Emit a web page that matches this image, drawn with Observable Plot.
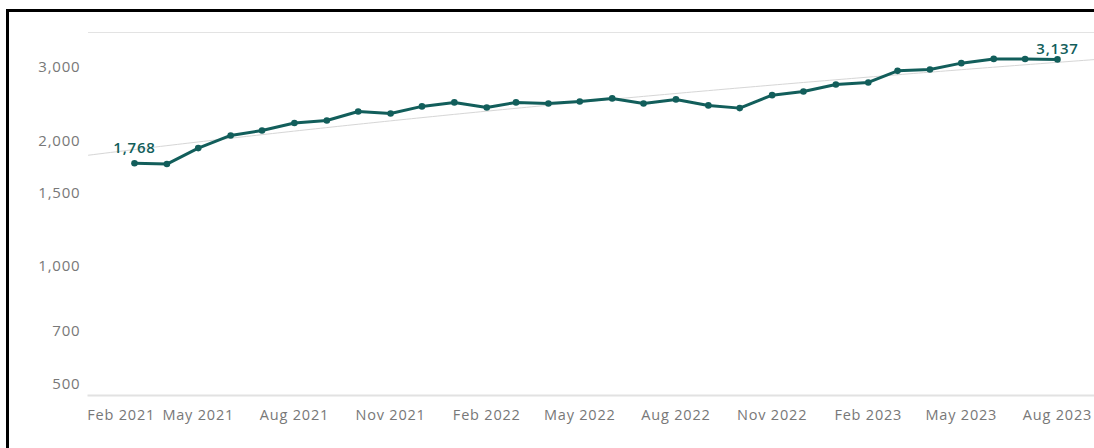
<!DOCTYPE html>
<html><head><meta charset="utf-8">
<script src="https://cdn.jsdelivr.net/npm/d3@7"></script>
<script src="https://cdn.jsdelivr.net/npm/@observablehq/plot@0.6"></script>
<style>
html,body{margin:0;padding:0;background:#fff;}
#wrap{position:relative;width:1094px;height:448px;overflow:hidden;}
#frame{position:absolute;left:6px;top:9px;right:-10px;bottom:-10px;border-left:3px solid #000;border-top:3px solid #000;pointer-events:none;}
</style></head><body>
<div id="wrap"><div id="chart"></div><div id="frame"></div></div>
<script>
const months = ["2021-03","2021-04","2021-05","2021-06","2021-07","2021-08","2021-09","2021-10","2021-11","2021-12",
  "2022-01","2022-02","2022-03","2022-04","2022-05","2022-06","2022-07","2022-08","2022-09","2022-10","2022-11","2022-12",
  "2023-01","2023-02","2023-03","2023-04","2023-05","2023-06","2023-07","2023-08"];
const values = [1768,1760,1922,2061,2119,2207,2239,2353,2327,2420,
  2474,2406,2474,2460,2487,2529,2460,2515,2433,2397,2575,2628,
  2732,2762,2945,2968,3073,3146,3144,3137];
const yTicks = [500,700,1000,1500,2000,3000];
const xTickMonths = ["2021-02","2021-05","2021-08","2021-11","2022-02","2022-05","2022-08","2022-11","2023-02","2023-05","2023-08"];
const labelMonths = ["2021-03","2023-08"];

const parse = d3.utcParse("%Y-%m");
const data = months.map((m, i) => ({date: parse(m), value: values[i]}));

// linear trend (value vs time), evaluated across the full axis
const xDomain = [new Date(Date.UTC(2021,0,16)), new Date(Date.UTC(2023,8,5,10))];
const t = data.map(d => +d.date), v = values;
const tm = d3.mean(t), vm = d3.mean(v);
const slope = d3.sum(t, (ti, i) => (ti - tm) * (v[i] - vm)) / d3.sum(t, ti => (ti - tm) ** 2);
const trend = d3.utcDay.every(5).range(xDomain[0], xDomain[1]).concat([xDomain[1]])
  .map(d => ({date: d, value: vm + slope * (+d - tm)}));

const labels = data.filter(d => labelMonths.includes(d3.utcFormat("%Y-%m")(d.date)));
const xTicks = xTickMonths.map(parse);
const teal = "#125e5b";
const fmt = d3.format(",");

const chart = Plot.plot({
  width: 1094, height: 448,
  marginLeft: 88, marginRight: 0, marginTop: 32, marginBottom: 53,
  style: {fontFamily: "Open Sans", fontSize: "15px", letterSpacing: "0.8px", color: "#787878", background: "transparent"},
  x: {type: "utc", domain: xDomain, axis: null},
  y: {type: "log", domain: [490, 3640], axis: null},
  marks: [
    Plot.frame({anchor: "top", stroke: "#e3e3e3"}),
    Plot.frame({anchor: "bottom", stroke: "#e2e2e2", strokeWidth: 2}),
    Plot.line(trend, {x: "date", y: "value", stroke: "#d6d6d6", strokeWidth: 1}),
    Plot.line(data, {x: "date", y: "value", stroke: teal, strokeWidth: 3}),
    Plot.dot(data, {x: "date", y: "value", r: 3.3, fill: teal}),
    Plot.text(labels.slice(0,1), {x: "date", y: "value", text: d => fmt(d.value), dy: -15, fill: teal, fontSize: 15, fontWeight: 600, letterSpacing: "0.4px"}),
    Plot.text(labels.slice(1), {x: "date", y: "value", text: d => fmt(d.value), dy: -10, fill: teal, fontSize: 15, fontWeight: 600, letterSpacing: "0.4px"}),
    Plot.axisY(yTicks.slice(1), {tickSize: 0, tickPadding: 8, tickFormat: fmt, label: null, fontSize: 15}),
    Plot.axisY(yTicks.slice(0,1), {tickSize: 0, tickPadding: 8, tickFormat: fmt, label: null, fontSize: 15, dy: -8}),
    Plot.axisX(xTicks.slice(1), {tickSize: 0, tickPadding: 14, tickFormat: d3.utcFormat("%b %Y"), label: null, fontSize: 14.5}),
    Plot.axisX(xTicks.slice(0,1), {tickSize: 0, tickPadding: 14, tickFormat: d3.utcFormat("%b %Y"), label: null, fontSize: 14.5, dx: 16})
  ]
});
document.getElementById("chart").appendChild(chart);
</script>
</body></html>
